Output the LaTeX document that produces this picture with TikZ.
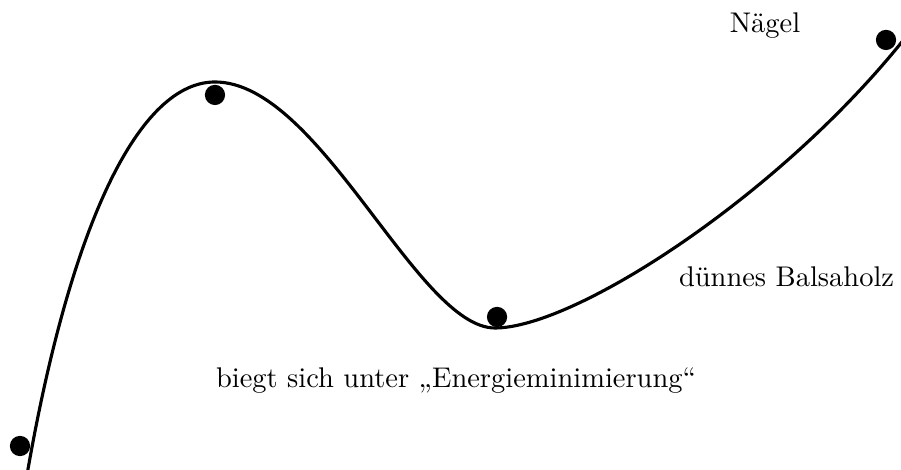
\documentclass[tikz,border=0pt]{standalone}
\usetikzlibrary{positioning}
\tikzset{nagel/.style={circle,fill=black,inner sep=0pt,minimum size=0.25cm}}
\begin{document}
\begin{tikzpicture}
		  \useasboundingbox (0,0) rectangle (11.123,5.802);
		  \coordinate (anfang) at (0.333,-0.062);
		  \coordinate (berg) at (2.654,4.79);
		  \coordinate (tal) at (6.111,1.753);
		  \coordinate (ende) at (11.173,5.333);
		  \draw[line width=1.1pt] (anfang) .. controls (0.88,3.086) and (1.728,4.79) .. (berg)
		     .. controls (3.951,4.79) and (5.148,1.753) .. (tal)
		     .. controls (7.099,1.753) and (9.63,3.395) .. (ende);
		  \node[nagel] (n1) at (0.247,0.296) {};
		  \node[nagel] (n2) at (2.654,4.63) {};
		  \node[nagel] (n3) at (6.136,1.889) {};
		  \node[nagel] (n4) at (10.938,5.309) {};
		  \node (naegel) at (9.444,5.481) {Nägel};
		  \node (holz) at (9.71,2.383) {dünnes Balsaholz};
		  \node (biegt) at (5.63,1.099) {biegt sich unter „Energieminimierung“};
\end{tikzpicture}
\end{document}
